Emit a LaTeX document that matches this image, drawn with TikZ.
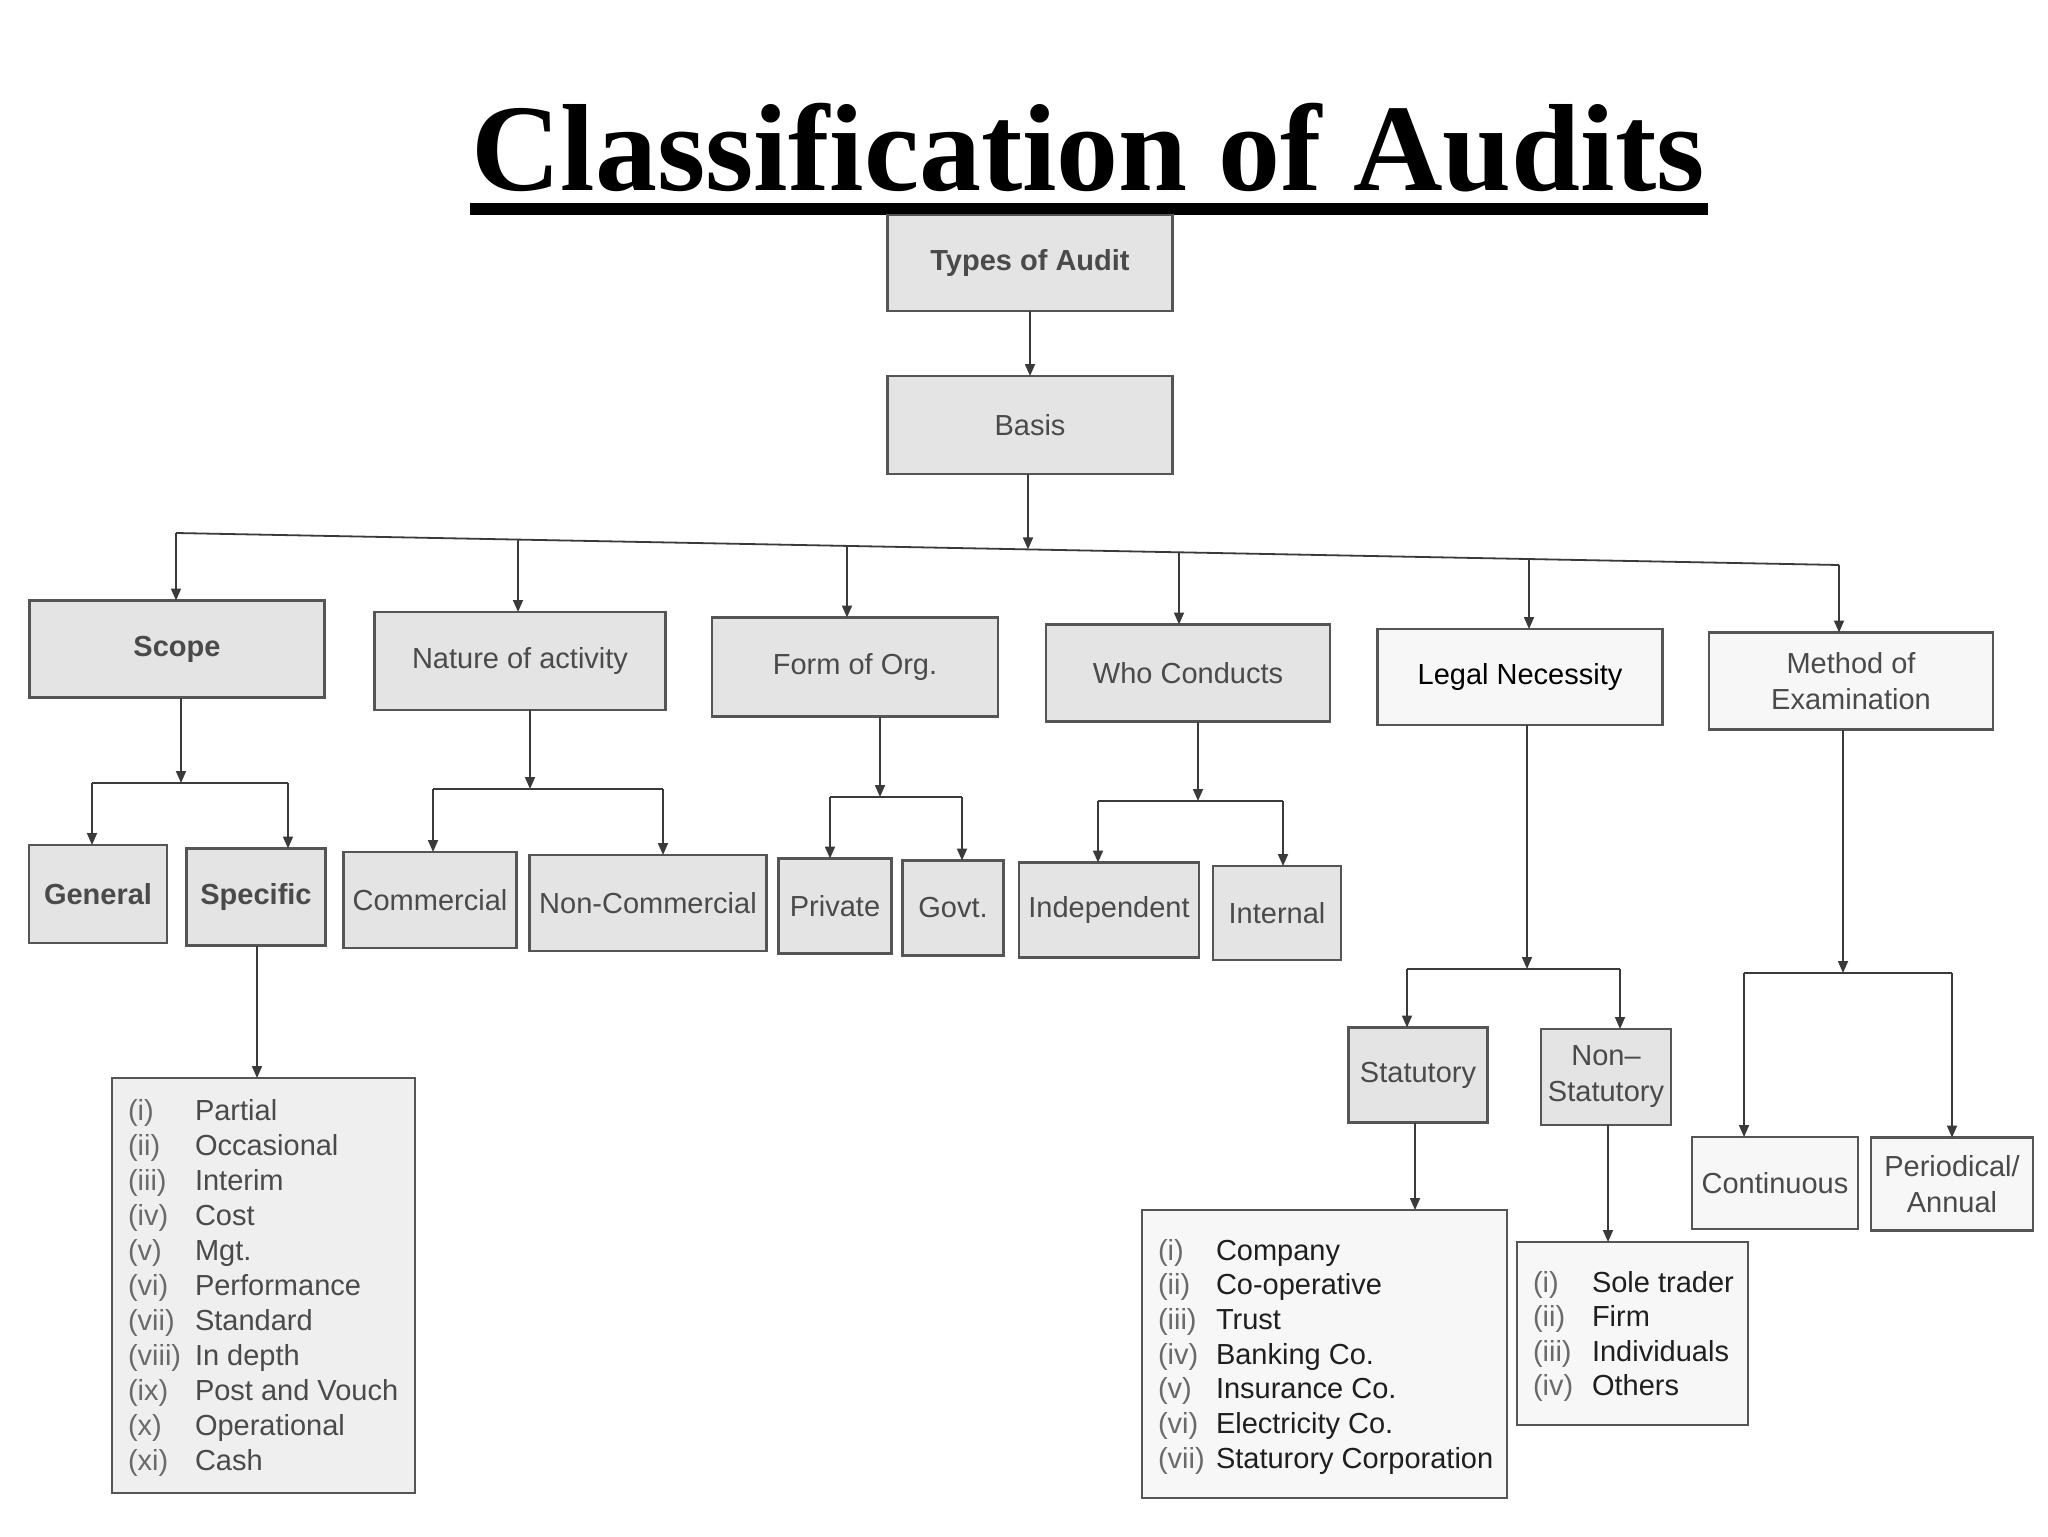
\documentclass[tikz,border=0pt]{standalone}
\usepackage{fontspec}
\setmainfont{Liberation Sans}
\newfontfamily\titlefont{Liberation Serif}
\usetikzlibrary{arrows.meta}
\definecolor{boxline}{HTML}{555555}
\definecolor{boxgray}{HTML}{E4E4E4}
\definecolor{boxwhite}{HTML}{F7F7F7}
\definecolor{txtgray}{HTML}{4A4A4A}
\definecolor{numgray}{HTML}{6A6A6A}
\definecolor{linecol}{HTML}{3A3A3A}
\begin{document}
\begin{tikzpicture}[x=0.5pt,y=-0.5pt,
  every node/.style={inner sep=0pt, outer sep=0pt},
  boxbase/.style={draw=boxline, line width=1.1pt, align=center, font=\fontsize{14.5}{18}\selectfont},
  graybox/.style={boxbase, fill=boxgray, text=txtgray},
  whitebox/.style={boxbase, fill=boxwhite, text=black!85},
  listbox/.style={draw=boxline, line width=1.1pt},
  listitem/.style={anchor=base west, font=\fontsize{14.5}{18}\selectfont},
  arr/.style={draw=linecol, line width=0.9pt, -{Triangle[width=5pt,length=6pt]}},
  conn/.style={draw=linecol, line width=0.9pt},
  sz/.style 2 args={minimum width=#1pt, minimum height=#2pt}
]
\useasboundingbox (0,0) rectangle (2048,1536);
\fill[white] (0,0) rectangle (2048,1536);

% Title
\node[anchor=base, font=\titlefont\bfseries\fontsize{62}{70}\selectfont] (title) at (1088,190) {Classification of Audits};
\fill[black] (470,203) rectangle (1708,215);

% Top
\node[graybox, sz={142.5}{48}, font=\bfseries\fontsize{14.5}{18}\selectfont] (types) at (1030,263) {Types of Audit};
\node[graybox, sz={142.5}{49}] (basis) at (1030,425) {Basis};

% Level 1
\node[graybox, sz={147.5}{48.5}, font=\bfseries\fontsize{14.5}{18}\selectfont] (scope) at (177,649) {Scope};
\node[graybox, sz={145.5}{49}] (nature) at (520,661) {Nature of activity};
\node[graybox, sz={143}{49.5}] (form) at (855,667) {Form of Org.};
\node[graybox, sz={142}{48.5}] (who) at (1188,673) {Who Conducts};
\node[whitebox, sz={142.5}{48}, text=black] (legal) at (1520,677) {Legal Necessity};
\node[whitebox, sz={142}{48.5}, text=txtgray] (method) at (1851,681) {Method of\\Examination};

% Level 2
\node[graybox, sz={69}{49}, font=\bfseries\fontsize{14.5}{18}\selectfont] (gen) at (98,894) {General};
\node[graybox, sz={69.5}{48.5}, font=\bfseries\fontsize{14.5}{18}\selectfont] (spec) at (256,897) {Specific};
\node[graybox, sz={86.5}{48}] (comm) at (430,900) {Commercial};
\node[graybox, sz={118.5}{48}] (noncomm) at (648,903) {Non-Commercial};
\node[graybox, sz={56.5}{47.5}] (priv) at (835,906) {Private};
\node[graybox, sz={50.5}{47.5}] (govt) at (953,908) {Govt.};
\node[graybox, sz={90}{47.5}] (indep) at (1109,910) {Independent};
\node[graybox, sz={64}{47}] (intl) at (1277,913) {Internal};
\node[graybox, sz={69.5}{47.5}] (stat) at (1418,1075) {Statutory};
\node[graybox, sz={65}{48}] (nonstat) at (1606,1077) {Non--\\Statutory};
\node[whitebox, sz={83}{46}, text=txtgray] (cont) at (1775,1183) {Continuous};
\node[whitebox, sz={81}{46.5}, text=txtgray] (period) at (1952,1184) {Periodical/\\Annual};

% List boxes
\node[listbox, fill=boxgray!60, sz={151.5}{207.5}] (speclist) at (263.5,1285.5) {};
\node[listbox, fill=boxwhite, sz={182.5}{144}] (statlist) at (1324.5,1354) {};
\node[listbox, fill=boxwhite, sz={115.5}{91.5}] (nslist) at (1632.5,1333.5) {};

\foreach \n/\t [count=\i from 0] in {(i)/Partial,(ii)/Occasional,(iii)/Interim,(iv)/Cost,(v)/Mgt.,(vi)/Performance,(vii)/Standard,(viii)/In depth,(ix)/Post and Vouch,(x)/Operational,(xi)/Cash}{
  \node[listitem, text=numgray] (spn\i) at (128,{1120+35*\i}) {\n};
  \node[listitem, text=txtgray] (spt\i) at (195,{1120+35*\i}) {\t};
}
\foreach \n/\t [count=\i from 0] in {(i)/Company,(ii)/Co-operative,(iii)/Trust,(iv)/Banking Co.,(v)/Insurance Co.,(vi)/Electricity Co.,(vii)/Staturory Corporation}{
  \node[listitem, text=numgray] (stn\i) at (1158,{1260+34.7*\i}) {\n};
  \node[listitem, text=black!88] (stt\i) at (1216,{1260+34.7*\i}) {\t};
}
\foreach \n/\t [count=\i from 0] in {(i)/Sole trader,(ii)/Firm,(iii)/Individuals,(iv)/Others}{
  \node[listitem, text=numgray] (nsn\i) at (1533,{1292+34.5*\i}) {\n};
  \node[listitem, text=black!88] (nst\i) at (1592,{1292+34.5*\i}) {\t};
}

% Connectors top
\draw[arr] (types.south) -- (basis.north);
\coordinate (busL) at (176,533);
\coordinate (busR) at (1839,565);
\coordinate (b2) at (518,539.6);
\coordinate (b3) at (847,545.9);
\coordinate (bm) at (1028,549.4);
\coordinate (b4) at (1179,552.3);
\coordinate (b5) at (1529,559);
\draw[conn] (busL) -- (busR);
\draw[arr] (basis.south -| bm) -- (bm);
\draw[arr] (busL) -- (busL |- scope.north);
\draw[arr] (b2) -- (b2 |- nature.north);
\draw[arr] (b3) -- (b3 |- form.north);
\draw[arr] (b4) -- (b4 |- who.north);
\draw[arr] (b5) -- (b5 |- legal.north);
\draw[arr] (busR) -- (busR |- method.north);

% Scope group
\coordinate (sj) at (181,783);
\coordinate (sL) at (92,783);
\coordinate (sR) at (288,783);
\draw[arr] (scope.south -| sj) -- (sj);
\draw[conn] (sL) -- (sR);
\draw[arr] (sL) -- (sL |- gen.north);
\draw[arr] (sR) -- (sR |- spec.north);

% Nature group
\coordinate (nj) at (530,789);
\coordinate (nL) at (433,789);
\coordinate (nR) at (663,789);
\draw[arr] (nature.south -| nj) -- (nj);
\draw[conn] (nL) -- (nR);
\draw[arr] (nL) -- (nL |- comm.north);
\draw[arr] (nR) -- (nR |- noncomm.north);

% Form group
\coordinate (fj) at (880,797);
\coordinate (fL) at (830,797);
\coordinate (fR) at (962,797);
\draw[arr] (form.south -| fj) -- (fj);
\draw[conn] (fL) -- (fR);
\draw[arr] (fL) -- (fL |- priv.north);
\draw[arr] (fR) -- (fR |- govt.north);

% Who group
\coordinate (wj) at (1198,801);
\coordinate (wL) at (1098,801);
\coordinate (wR) at (1283,801);
\draw[arr] (who.south -| wj) -- (wj);
\draw[conn] (wL) -- (wR);
\draw[arr] (wL) -- (wL |- indep.north);
\draw[arr] (wR) -- (wR |- intl.north);

% Legal group
\coordinate (lj) at (1527,969);
\coordinate (lL) at (1407,969);
\coordinate (lR) at (1620,969);
\draw[arr] (legal.south -| lj) -- (lj);
\draw[conn] (lL) -- (lR);
\draw[arr] (lL) -- (lL |- stat.north);
\draw[arr] (lR) -- (lR |- nonstat.north);

% Method group
\coordinate (mj) at (1843,973);
\coordinate (mL) at (1744,973);
\coordinate (mR) at (1952,973);
\draw[arr] (method.south -| mj) -- (mj);
\draw[conn] (mL) -- (mR);
\draw[arr] (mL) -- (mL |- cont.north);
\draw[arr] (mR) -- (mR |- period.north);

% Lists
\coordinate (spx) at (257,0);
\coordinate (stx) at (1415,0);
\coordinate (nsx) at (1608,0);
\draw[arr] (spec.south -| spx) -- (speclist.north -| spx);
\draw[arr] (stat.south -| stx) -- (statlist.north -| stx);
\draw[arr] (nonstat.south -| nsx) -- (nslist.north -| nsx);
\end{tikzpicture}
\end{document}
